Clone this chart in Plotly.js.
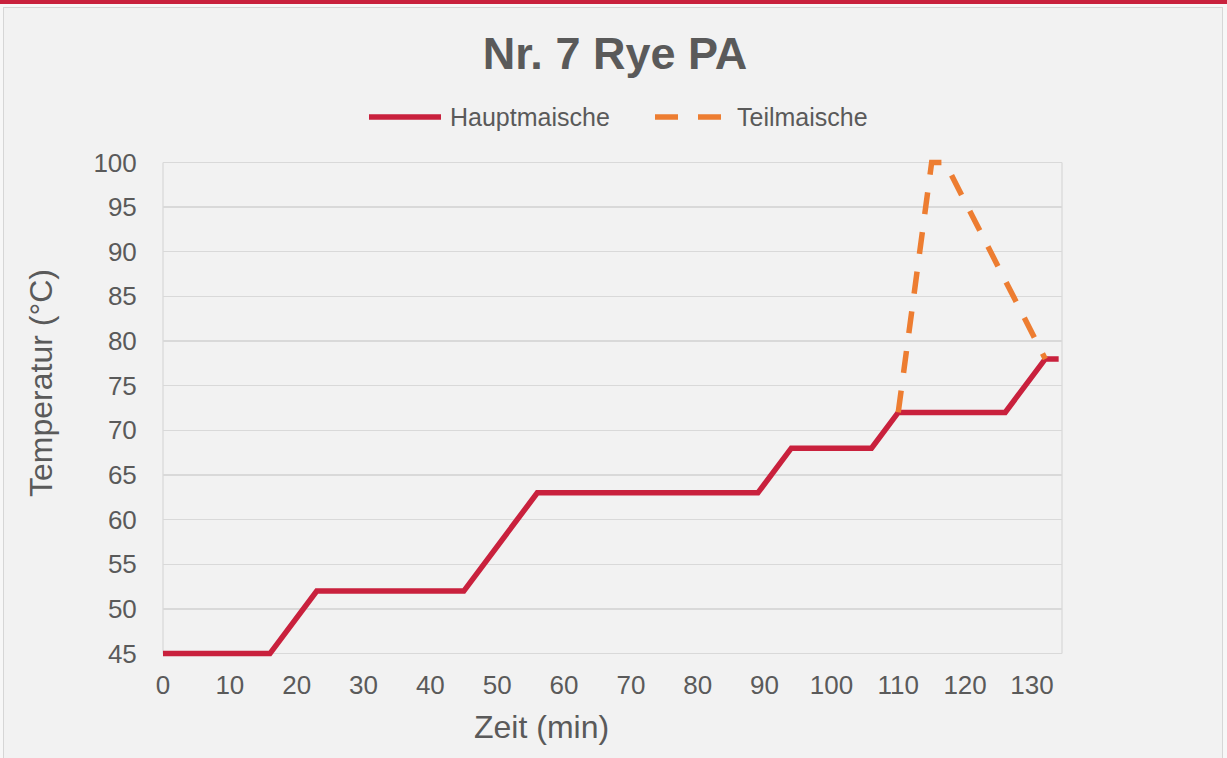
<!DOCTYPE html>
<html>
<head>
<meta charset="utf-8">
<script src="https://cdn.plot.ly/plotly-3.0.1.min.js"></script>
<style>
  html, body { margin: 0; padding: 0; background: #f7f7f7; width: 1227px; height: 758px; overflow: hidden; }
  #bar { position: absolute; left: 0; top: 0; width: 1227px; height: 4px; background: #c9213d; }
  #frame { position: absolute; left: 3px; top: 7px; width: 1218px; height: 760px; border: 1px solid #d6d6d6; background: #f2f2f2; }
  #chart { position: absolute; left: 0; top: 0; width: 1227px; height: 758px; }
</style>
</head>
<body>
<div id="bar"></div>
<div id="frame"></div>
<div id="chart"></div>
<script>
// Hauptmaische (main mash)
const hauptZeit = [0, 16, 23, 45, 56, 89, 94, 106, 110, 126, 132, 134];
const hauptTemp = [45, 45, 52, 52, 63, 63, 68, 68, 72, 72, 78, 78];
// Teilmaische (partial mash / decoction)
const teilZeit = [110, 115, 117, 132];
const teilTemp = [72, 100, 100, 78];
const yTicks = [45, 50, 55, 60, 65, 70, 75, 80, 85, 90, 95, 100];
const xTicks = [0, 10, 20, 30, 40, 50, 60, 70, 80, 90, 100, 110, 120, 130];
const seriesNames = ["Hauptmaische", "Teilmaische"];
const seriesColors = ["#c9213d", "#ed7d31"];

const font = "Liberation Sans, Arial, Helvetica, sans-serif";
const grey = "#5a5a5a";

// plot area geometry (pixels)
const L = 163, R = 165, T = 158, B = 100, W = 1227, H = 758;
const pw = W - L - R, ph = H - T - B;
const px = v => (v - L) / pw;          // pixel x -> paper x
const py = v => (H - B - v) / ph;      // pixel y -> paper y

const traces = [
  { x: hauptZeit, y: hauptTemp, name: seriesNames[0], type: "scatter", mode: "lines",
    line: { color: seriesColors[0], width: 5.5 }, showlegend: false },
  { x: teilZeit, y: teilTemp, name: seriesNames[1], type: "scatter", mode: "lines",
    line: { color: seriesColors[1], width: 5.5, dash: "22px,18px" }, showlegend: false }
];

const legendY = py(117);
const layout = {
  width: W, height: H,
  paper_bgcolor: "rgba(0,0,0,0)", plot_bgcolor: "rgba(0,0,0,0)",
  margin: { l: L, r: R, t: T, b: B },
  font: { family: font, color: grey, size: 26 },
  title: { text: "<b>Nr. 7 Rye PA</b>", x: 615 / W, xanchor: "center", y: 1 - 53 / H, yanchor: "middle",
           font: { family: font, size: 45, color: grey } },
  showlegend: false,
  xaxis: { range: [0, 134.5], tickvals: xTicks, ticktext: xTicks.map(String),
           showgrid: false, zeroline: false, showline: false,
           ticks: "outside", ticklen: 4, tickcolor: "rgba(0,0,0,0)",
           tickfont: { family: font, size: 26, color: grey }, fixedrange: true },
  yaxis: { range: [44.5, 100.5], tickvals: yTicks, ticktext: yTicks.map(String),
           showgrid: true, gridcolor: "#d9d9d9", gridwidth: 1.3, zeroline: false, showline: false,
           ticks: "outside", ticklen: 20, tickcolor: "rgba(0,0,0,0)",
           tickfont: { family: font, size: 26, color: grey }, fixedrange: true },
  shapes: [
    { type: "line", xref: "paper", yref: "y", x0: 0, x1: 0, y0: 45, y1: 100, line: { color: "#d9d9d9", width: 1.3 }, layer: "below" },
    { type: "line", xref: "paper", yref: "y", x0: 1, x1: 1, y0: 45, y1: 100, line: { color: "#d9d9d9", width: 1.3 }, layer: "below" },
    // legend samples
    { type: "line", xref: "paper", yref: "paper", x0: px(369), x1: px(441), y0: legendY, y1: legendY,
      line: { color: seriesColors[0], width: 5.5 } },
    { type: "line", xref: "paper", yref: "paper", x0: px(655), x1: px(678), y0: legendY, y1: legendY,
      line: { color: seriesColors[1], width: 5.5 } },
    { type: "line", xref: "paper", yref: "paper", x0: px(698), x1: px(721), y0: legendY, y1: legendY,
      line: { color: seriesColors[1], width: 5.5 } }
  ],
  annotations: [
    { text: seriesNames[0], xref: "paper", yref: "paper", x: px(448), xanchor: "left", y: legendY, yanchor: "middle",
      showarrow: false, font: { family: font, size: 25, color: grey } },
    { text: seriesNames[1], xref: "paper", yref: "paper", x: px(735), xanchor: "left", y: legendY, yanchor: "middle",
      showarrow: false, font: { family: font, size: 25, color: grey } },
    { text: "Zeit (min)", xref: "paper", yref: "paper", x: px(541), xanchor: "center", y: py(727), yanchor: "middle",
      showarrow: false, font: { family: font, size: 32, color: grey } },
    { text: "Temperatur (°C)", xref: "paper", yref: "paper", x: px(41), xanchor: "center",
      y: py(383), yanchor: "middle", textangle: -90,
      showarrow: false, font: { family: font, size: 32, color: grey } }
  ]
};

Plotly.newPlot("chart", traces, layout, { displayModeBar: false, staticPlot: true });
</script>
</body>
</html>
